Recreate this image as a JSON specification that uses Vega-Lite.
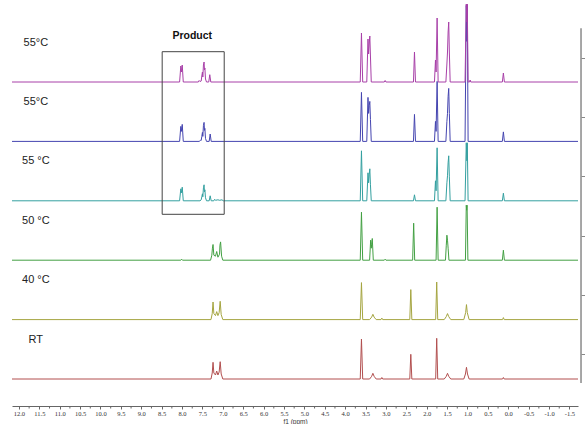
{
  "$schema": "https://vega.github.io/schema/vega-lite/v6.json",
  "width": 566,
  "height": 401,
  "autosize": {"type": "none"},
  "padding": {"left": 12, "top": 5, "right": 7, "bottom": 18},
  "background": "white",
  "config": {"view": {"stroke": null}},
  "resolve": {"axis": {"x": "independent"}},
  "layer": [
    {
      "data": {"values": [
        {"s":"RT","p":12.17,"v":0},{"s":"RT","p":-1.71,"v":0},
        {"s":"RT","p":7.29,"v":0},{"s":"RT","p":7.26,"v":6},{"s":"RT","p":7.24,"v":16.7},{"s":"RT","p":7.22,"v":6},{"s":"RT","p":7.18,"v":4},{"s":"RT","p":7.15,"v":8},{"s":"RT","p":7.12,"v":4},{"s":"RT","p":7.09,"v":7},{"s":"RT","p":7.065,"v":17.3},{"s":"RT","p":7.04,"v":5},{"s":"RT","p":7.0,"v":0},
        {"s":"RT","p":3.63,"v":0},{"s":"RT","p":3.6,"v":40},{"s":"RT","p":3.57,"v":0},
        {"s":"RT","p":3.4,"v":0},{"s":"RT","p":3.35,"v":2.7},{"s":"RT","p":3.32,"v":5.7},{"s":"RT","p":3.29,"v":2.7},{"s":"RT","p":3.24,"v":0},
        {"s":"RT","p":3.12,"v":0},{"s":"RT","p":3.1,"v":1.5},{"s":"RT","p":3.08,"v":0},
        {"s":"RT","p":2.415,"v":0},{"s":"RT","p":2.39,"v":24.7},{"s":"RT","p":2.365,"v":0},
        {"s":"RT","p":1.78,"v":0},{"s":"RT","p":1.755,"v":40.7},{"s":"RT","p":1.73,"v":0},
        {"s":"RT","p":1.57,"v":0},{"s":"RT","p":1.52,"v":2.7},{"s":"RT","p":1.49,"v":5.7},{"s":"RT","p":1.46,"v":2.7},{"s":"RT","p":1.41,"v":0},
        {"s":"RT","p":1.09,"v":0},{"s":"RT","p":1.05,"v":5},{"s":"RT","p":1.025,"v":11.7},{"s":"RT","p":1.0,"v":5},{"s":"RT","p":0.96,"v":0},
        {"s":"RT","p":0.14,"v":0},{"s":"RT","p":0.12,"v":1.5},{"s":"RT","p":0.1,"v":0},

        {"s":"40","p":12.17,"v":0},{"s":"40","p":-1.71,"v":0},
        {"s":"40","p":7.29,"v":0},{"s":"40","p":7.26,"v":6},{"s":"40","p":7.24,"v":17.6},{"s":"40","p":7.22,"v":6},{"s":"40","p":7.18,"v":4},{"s":"40","p":7.15,"v":8},{"s":"40","p":7.12,"v":4},{"s":"40","p":7.09,"v":7},{"s":"40","p":7.065,"v":18.3},{"s":"40","p":7.04,"v":5},{"s":"40","p":7.0,"v":0},
        {"s":"40","p":3.63,"v":0},{"s":"40","p":3.6,"v":37},{"s":"40","p":3.57,"v":0},
        {"s":"40","p":3.4,"v":0},{"s":"40","p":3.35,"v":2.5},{"s":"40","p":3.32,"v":5.3},{"s":"40","p":3.29,"v":2.5},{"s":"40","p":3.24,"v":0},
        {"s":"40","p":3.12,"v":0},{"s":"40","p":3.1,"v":1.5},{"s":"40","p":3.08,"v":0},
        {"s":"40","p":2.415,"v":0},{"s":"40","p":2.39,"v":30},{"s":"40","p":2.365,"v":0},
        {"s":"40","p":1.78,"v":0},{"s":"40","p":1.755,"v":37.6},{"s":"40","p":1.73,"v":0},
        {"s":"40","p":1.57,"v":0},{"s":"40","p":1.52,"v":3},{"s":"40","p":1.49,"v":6},{"s":"40","p":1.46,"v":3},{"s":"40","p":1.41,"v":0},
        {"s":"40","p":1.09,"v":0},{"s":"40","p":1.045,"v":7},{"s":"40","p":1.025,"v":15},{"s":"40","p":1.005,"v":7},{"s":"40","p":0.96,"v":0},
        {"s":"40","p":0.14,"v":0},{"s":"40","p":0.12,"v":2},{"s":"40","p":0.1,"v":0},

        {"s":"50","p":12.17,"v":0},{"s":"50","p":-1.71,"v":0},
        {"s":"50","p":8.03,"v":0},{"s":"50","p":8.01,"v":1},{"s":"50","p":7.99,"v":0},
        {"s":"50","p":7.3,"v":0},{"s":"50","p":7.27,"v":5},{"s":"50","p":7.255,"v":12},{"s":"50","p":7.24,"v":15.7},{"s":"50","p":7.22,"v":5},{"s":"50","p":7.18,"v":4},{"s":"50","p":7.15,"v":8.7},{"s":"50","p":7.12,"v":3},{"s":"50","p":7.08,"v":6},{"s":"50","p":7.07,"v":15},{"s":"50","p":7.055,"v":18.3},{"s":"50","p":7.03,"v":4},{"s":"50","p":7.0,"v":0},
        {"s":"50","p":3.63,"v":0},{"s":"50","p":3.6,"v":48},{"s":"50","p":3.57,"v":0},
        {"s":"50","p":3.4,"v":0},{"s":"50","p":3.375,"v":20},{"s":"50","p":3.36,"v":12},{"s":"50","p":3.35,"v":16},{"s":"50","p":3.335,"v":21.7},{"s":"50","p":3.31,"v":0},
        {"s":"50","p":3.04,"v":0},{"s":"50","p":3.02,"v":1},{"s":"50","p":3.0,"v":0},
        {"s":"50","p":2.345,"v":0},{"s":"50","p":2.32,"v":37},{"s":"50","p":2.295,"v":0},
        {"s":"50","p":1.77,"v":0},{"s":"50","p":1.745,"v":53},{"s":"50","p":1.72,"v":0},
        {"s":"50","p":1.54,"v":0},{"s":"50","p":1.52,"v":15},{"s":"50","p":1.505,"v":25},{"s":"50","p":1.49,"v":20},{"s":"50","p":1.475,"v":12},{"s":"50","p":1.455,"v":0},
        {"s":"50","p":1.05,"v":0},{"s":"50","p":1.03,"v":55},{"s":"50","p":1.02,"v":50},{"s":"50","p":1.01,"v":55},{"s":"50","p":0.99,"v":0},
        {"s":"50","p":0.145,"v":0},{"s":"50","p":0.12,"v":10},{"s":"50","p":0.095,"v":0},

        {"s":"55c","p":12.17,"v":0},{"s":"55c","p":-1.71,"v":0},
        {"s":"55c","p":8.06,"v":0},{"s":"55c","p":8.03,"v":12},{"s":"55c","p":8.015,"v":8},{"s":"55c","p":7.995,"v":13.6},{"s":"55c","p":7.97,"v":0},
        {"s":"55c","p":7.56,"v":0},{"s":"55c","p":7.53,"v":1},{"s":"55c","p":7.515,"v":4},{"s":"55c","p":7.5,"v":7},{"s":"55c","p":7.49,"v":4},{"s":"55c","p":7.475,"v":13},{"s":"55c","p":7.46,"v":16},{"s":"55c","p":7.45,"v":9},{"s":"55c","p":7.44,"v":11},{"s":"55c","p":7.425,"v":3},{"s":"55c","p":7.4,"v":0},
        {"s":"55c","p":7.335,"v":0},{"s":"55c","p":7.31,"v":5},{"s":"55c","p":7.285,"v":0},
        {"s":"55c","p":7.22,"v":0},{"s":"55c","p":7.2,"v":1.5},{"s":"55c","p":7.18,"v":0.5},{"s":"55c","p":7.12,"v":1},{"s":"55c","p":7.08,"v":0.5},{"s":"55c","p":7.02,"v":1},{"s":"55c","p":6.99,"v":0},
        {"s":"55c","p":3.63,"v":0},{"s":"55c","p":3.6,"v":50},{"s":"55c","p":3.57,"v":0},
        {"s":"55c","p":3.47,"v":0},{"s":"55c","p":3.44,"v":28},{"s":"55c","p":3.425,"v":18},{"s":"55c","p":3.41,"v":26},{"s":"55c","p":3.395,"v":32},{"s":"55c","p":3.38,"v":16},{"s":"55c","p":3.36,"v":0},
        {"s":"55c","p":2.325,"v":0},{"s":"55c","p":2.3,"v":6},{"s":"55c","p":2.275,"v":0},
        {"s":"55c","p":1.81,"v":0},{"s":"55c","p":1.785,"v":20},{"s":"55c","p":1.77,"v":10},{"s":"55c","p":1.745,"v":53},{"s":"55c","p":1.72,"v":0},
        {"s":"55c","p":1.53,"v":0},{"s":"55c","p":1.505,"v":18},{"s":"55c","p":1.49,"v":25},{"s":"55c","p":1.475,"v":38},{"s":"55c","p":1.46,"v":45},{"s":"55c","p":1.445,"v":24},{"s":"55c","p":1.425,"v":0},
        {"s":"55c","p":1.06,"v":0},{"s":"55c","p":1.03,"v":58},{"s":"55c","p":1.015,"v":40},{"s":"55c","p":1.005,"v":58},{"s":"55c","p":0.985,"v":0},
        {"s":"55c","p":0.145,"v":0},{"s":"55c","p":0.12,"v":7.6},{"s":"55c","p":0.095,"v":0},

        {"s":"55b","p":12.17,"v":0},{"s":"55b","p":-1.71,"v":0},
        {"s":"55b","p":8.06,"v":0},{"s":"55b","p":8.03,"v":15},{"s":"55b","p":8.015,"v":10},{"s":"55b","p":7.995,"v":17},{"s":"55b","p":7.97,"v":0},
        {"s":"55b","p":7.58,"v":0},{"s":"55b","p":7.55,"v":1},{"s":"55b","p":7.53,"v":1},{"s":"55b","p":7.515,"v":5},{"s":"55b","p":7.5,"v":9},{"s":"55b","p":7.49,"v":5},{"s":"55b","p":7.475,"v":16},{"s":"55b","p":7.46,"v":19},{"s":"55b","p":7.45,"v":11},{"s":"55b","p":7.44,"v":13},{"s":"55b","p":7.425,"v":3},{"s":"55b","p":7.4,"v":0},
        {"s":"55b","p":7.335,"v":0},{"s":"55b","p":7.31,"v":7.4},{"s":"55b","p":7.285,"v":0},
        {"s":"55b","p":3.63,"v":0},{"s":"55b","p":3.6,"v":49},{"s":"55b","p":3.57,"v":0},
        {"s":"55b","p":3.47,"v":0},{"s":"55b","p":3.44,"v":44},{"s":"55b","p":3.425,"v":28},{"s":"55b","p":3.41,"v":36},{"s":"55b","p":3.395,"v":40},{"s":"55b","p":3.38,"v":22},{"s":"55b","p":3.36,"v":0},
        {"s":"55b","p":2.325,"v":0},{"s":"55b","p":2.3,"v":27},{"s":"55b","p":2.275,"v":0},
        {"s":"55b","p":1.81,"v":0},{"s":"55b","p":1.785,"v":20},{"s":"55b","p":1.77,"v":10},{"s":"55b","p":1.745,"v":60},{"s":"55b","p":1.72,"v":0},
        {"s":"55b","p":1.53,"v":0},{"s":"55b","p":1.505,"v":20},{"s":"55b","p":1.49,"v":28},{"s":"55b","p":1.475,"v":45},{"s":"55b","p":1.46,"v":53},{"s":"55b","p":1.445,"v":28},{"s":"55b","p":1.425,"v":0},
        {"s":"55b","p":1.06,"v":0},{"s":"55b","p":1.03,"v":136},{"s":"55b","p":1.015,"v":100},{"s":"55b","p":1.005,"v":136},{"s":"55b","p":0.985,"v":0},
        {"s":"55b","p":0.145,"v":0},{"s":"55b","p":0.12,"v":9.5},{"s":"55b","p":0.095,"v":0},

        {"s":"55a","p":12.17,"v":0},{"s":"55a","p":-1.71,"v":0},
        {"s":"55a","p":8.06,"v":0},{"s":"55a","p":8.03,"v":16},{"s":"55a","p":8.015,"v":10},{"s":"55a","p":7.995,"v":17},{"s":"55a","p":7.97,"v":0},
        {"s":"55a","p":7.6,"v":0},{"s":"55a","p":7.58,"v":1.5},{"s":"55a","p":7.56,"v":0.5},{"s":"55a","p":7.53,"v":1},{"s":"55a","p":7.515,"v":6},{"s":"55a","p":7.5,"v":10},{"s":"55a","p":7.49,"v":5},{"s":"55a","p":7.475,"v":17},{"s":"55a","p":7.46,"v":20},{"s":"55a","p":7.45,"v":12},{"s":"55a","p":7.44,"v":14},{"s":"55a","p":7.425,"v":3},{"s":"55a","p":7.4,"v":0},
        {"s":"55a","p":7.345,"v":0},{"s":"55a","p":7.32,"v":7.3},{"s":"55a","p":7.295,"v":0},
        {"s":"55a","p":3.63,"v":0},{"s":"55a","p":3.6,"v":49},{"s":"55a","p":3.57,"v":0},
        {"s":"55a","p":3.47,"v":0},{"s":"55a","p":3.44,"v":43},{"s":"55a","p":3.425,"v":28},{"s":"55a","p":3.41,"v":38},{"s":"55a","p":3.395,"v":46},{"s":"55a","p":3.38,"v":26},{"s":"55a","p":3.36,"v":0},
        {"s":"55a","p":3.04,"v":0},{"s":"55a","p":3.02,"v":1.5},{"s":"55a","p":3.0,"v":0},
        {"s":"55a","p":2.325,"v":0},{"s":"55a","p":2.3,"v":30},{"s":"55a","p":2.275,"v":0},
        {"s":"55a","p":1.81,"v":0},{"s":"55a","p":1.785,"v":22},{"s":"55a","p":1.77,"v":10},{"s":"55a","p":1.745,"v":64},{"s":"55a","p":1.72,"v":0},
        {"s":"55a","p":1.53,"v":0},{"s":"55a","p":1.505,"v":18},{"s":"55a","p":1.49,"v":30},{"s":"55a","p":1.475,"v":50},{"s":"55a","p":1.46,"v":60},{"s":"55a","p":1.445,"v":30},{"s":"55a","p":1.425,"v":0},
        {"s":"55a","p":1.06,"v":0},{"s":"55a","p":1.03,"v":78},{"s":"55a","p":1.015,"v":60},{"s":"55a","p":1.005,"v":78},{"s":"55a","p":0.985,"v":0},
        {"s":"55a","p":0.95,"v":0},{"s":"55a","p":0.935,"v":2},{"s":"55a","p":0.92,"v":0},
        {"s":"55a","p":0.145,"v":0},{"s":"55a","p":0.12,"v":9},{"s":"55a","p":0.095,"v":0}
      ]},
      "transform": [
        {"calculate": "indexof(['RT','40','50','55c','55b','55a'], datum.s) * 59.4 + datum.v", "as": "y"}
      ],
      "mark": {"type": "line", "strokeWidth": 1, "interpolate": "linear"},
      "encoding": {
        "x": {
          "field": "p", "type": "quantitative",
          "scale": {"domain": [-1.71, 12.17], "reverse": true, "nice": false, "zero": false},
          "axis": {
            "orient": "bottom",
            "values": [12,11,10,9,8,7,6,5,4,3,2,1,0,-1],
            "labelExpr": "replace(format(datum.value, '.1f'), '\u2212', '-')",
            "labelOverlap": false, "labelFlush": false, "labelBound": false,
            "grid": false, "tickSize": 3, "tickColor": "#666", "domainColor": "#666",
            "labelFont": "Liberation Serif", "labelFontSize": 6.5, "labelColor": "#333", "labelPadding": 1.5,
            "title": "f1 (ppm)", "titleFont": "Liberation Sans", "titleFontSize": 6.5, "titleFontWeight": "normal", "titleColor": "#333", "titlePadding": 1
          }
        },
        "y": {
          "field": "y", "type": "quantitative",
          "scale": {"domain": [-27, 374], "nice": false, "zero": false},
          "axis": {
            "orient": "right", "offset": 3, "values": [24.7, 84, 143.3, 202.6, 261.9, 321.2],
            "labels": false, "domain": false, "grid": false, "tickSize": 4, "tickColor": "#888", "title": null
          }
        },
        "color": {
          "field": "s", "type": "nominal",
          "scale": {"domain": ["RT","40","50","55c","55b","55a"], "range": ["#b24f4f","#a5a540","#43a043","#34a0a0","#4545b0","#a840a8"]},
          "legend": null
        },
        "detail": {"field": "s"}
      }
    },
    {
      "data": {"values": [{"m":11.75},{"m":11.25},{"m":10.75},{"m":10.25},{"m":9.75},{"m":9.25},{"m":8.75},{"m":8.25},{"m":7.75},{"m":7.25},{"m":6.75},{"m":6.25},{"m":5.75},{"m":5.25},{"m":4.75},{"m":4.25},{"m":3.75},{"m":3.25},{"m":2.75},{"m":2.25},{"m":1.75},{"m":1.25},{"m":0.75},{"m":0.25},{"m":-0.25},{"m":-0.75},{"m":-1.25}]},
      "mark": {"type": "rule", "color": "#666", "strokeWidth": 1},
      "encoding": {
        "x": {
          "field": "m", "type": "quantitative",
          "axis": {
            "orient": "bottom",
            "values": [11.5,10.5,9.5,8.5,7.5,6.5,5.5,4.5,3.5,2.5,1.5,0.5,-0.5,-1.5],
            "labelExpr": "replace(format(datum.value, '.1f'), '\u2212', '-')",
            "labelOverlap": false, "labelFlush": false, "labelBound": false,
            "grid": false, "domain": false, "tickSize": 3, "tickColor": "#666",
            "labelFont": "Liberation Serif", "labelFontSize": 6.5, "labelColor": "#333", "labelPadding": 1.5,
            "title": null
          }
        },
        "y": {"datum": -27, "type": "quantitative"},
        "y2": {"datum": -29.5}
      }
    },
    {
      "data": {"values": [{}]},
      "mark": {"type": "rule", "color": "#8a8a8a", "strokeWidth": 1.5},
      "encoding": {
        "x": {"datum": -1.784, "type": "quantitative", "axis": null},
        "y": {"datum": -4, "type": "quantitative"},
        "y2": {"datum": 350.7}
      }
    },
    {
      "data": {"values": [{}]},
      "mark": {"type": "rect", "fillOpacity": 0, "fill": "white", "stroke": "#444", "strokeWidth": 1},
      "encoding": {
        "x": {"datum": 8.487, "type": "quantitative", "axis": null},
        "x2": {"datum": 6.966},
        "y": {"datum": 327.3, "type": "quantitative"},
        "y2": {"datum": 164.7}
      }
    },
    {
      "data": {"values": [{"t": "Product"}]},
      "mark": {"type": "text", "font": "Liberation Sans", "fontSize": 10.5, "fontWeight": "bold", "color": "#111", "align": "center", "baseline": "middle"},
      "encoding": {
        "x": {"datum": 7.75, "type": "quantitative", "axis": null},
        "y": {"datum": 342.8, "type": "quantitative"},
        "text": {"field": "t"}
      }
    },
    {
      "data": {"values": [
        {"s": "55a", "t": "55°C"},
        {"s": "55b", "t": "55°C"},
        {"s": "55c", "t": "55 °C"},
        {"s": "50", "t": "50 °C"},
        {"s": "40", "t": "40 °C"},
        {"s": "RT", "t": "RT"}
      ]},
      "transform": [
        {"calculate": "indexof(['RT','40','50','55c','55b','55a'], datum.s) * 59.4 + 39.4", "as": "y"}
      ],
      "mark": {"type": "text", "font": "Liberation Sans", "fontSize": 11, "color": "#222", "align": "center", "baseline": "middle"},
      "encoding": {
        "x": {"datum": 11.585, "type": "quantitative", "axis": null},
        "y": {"field": "y", "type": "quantitative"},
        "text": {"field": "t"}
      }
    }
  ]
}
